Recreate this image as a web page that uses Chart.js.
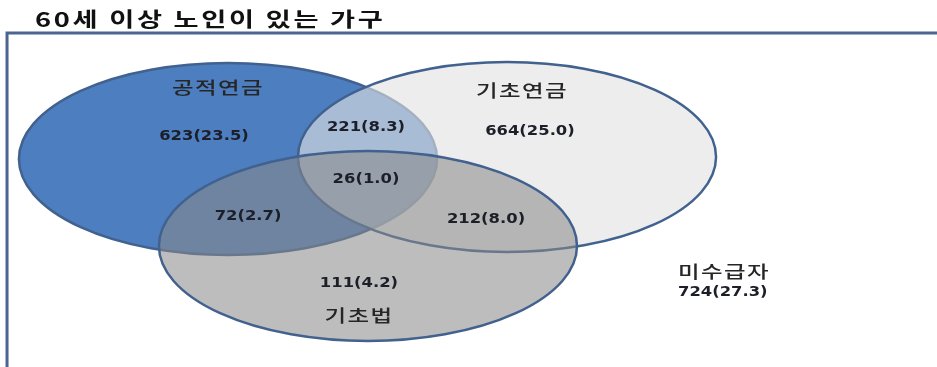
<!DOCTYPE html>
<html>
<head>
<meta charset="utf-8">
<script src="https://cdn.jsdelivr.net/npm/chart.js@4/dist/chart.umd.min.js"></script>
<style>
  html, body { margin: 0; padding: 0; background: #ffffff; }
  #wrap { width: 937px; height: 367px; }
</style>
</head>
<body>
<div id="wrap"><canvas id="venn" width="937" height="367"></canvas></div>
<script>
// ---- values ----
const chartTitle = '60세 이상 노인이 있는 가구';
const setNames = ['공적연금', '기초연금', '기초법'];
// regions: A only, B only, C only, A∩B, A∩C, B∩C, A∩B∩C
const regionCounts = [623, 664, 111, 221, 72, 212, 26];
const regionShares = [23.5, 25.0, 4.2, 8.3, 2.7, 8.0, 1.0];
const outsideName = '미수급자';
const outsideCount = 724;
const outsideShare = 27.3;

// ---- layout (axis units, both axes 0..100, y runs downward) ----
const setShapes = [
  { cx: 24.33, cy: 43.32, rx: 22.31, ry: 26.16, fill: '#4D7EC0' },
  { cx: 54.11, cy: 42.78, rx: 22.31, ry: 25.89, fill: 'rgba(226,226,226,0.62)' },
  { cx: 39.27, cy: 67.03, rx: 22.31, ry: 25.89, fill: 'rgba(137,137,137,0.56)' }
];
const setLabelPos = [
  { x: 23.27, y: 23.98 },
  { x: 55.71, y: 24.80 },
  { x: 38.31, y: 86.10 }
];
const regionLabelPos = [
  { x: 21.77, y: 37.06 },
  { x: 56.56, y: 35.69 },
  { x: 38.31, y: 77.11 },
  { x: 39.06, y: 34.60 },
  { x: 26.47, y: 58.86 },
  { x: 51.87, y: 59.67 },
  { x: 39.06, y: 48.77 }
];
const outsideLabelPos = [{ x: 72.36, y: 74.11 }, { x: 72.36, y: 79.56 }];
const titlePos = { x: 3.74, y: 5.18 };
const framePos = { x: 0.75, y: 8.99 };

const edgeColor = '#41618F';
const numberFont = 'bold 14px "DejaVu Sans", Verdana, sans-serif';
const nameFont = '500 17px "Noto Sans CJK KR", sans-serif';
const numberStretch = 1.17;
const nameStretch = 1.38;

function fmt(count, share) {
  return count + '(' + share.toFixed(1) + ')';
}

function drawText(ctx, text, x, y, font, color, stretch, align, spacing) {
  ctx.save();
  ctx.font = font;
  ctx.fillStyle = color;
  ctx.textBaseline = 'middle';
  ctx.textAlign = align;
  if (spacing) ctx.letterSpacing = spacing + 'px';
  ctx.translate(x, y);
  ctx.scale(stretch, 1);
  ctx.fillText(text, 0, 0);
  ctx.restore();
}

const vennPlugin = {
  id: 'vennPlugin',
  beforeDatasetsDraw(chart) {
    const ctx = chart.ctx;
    const xs = chart.scales.x, ys = chart.scales.y;
    // outer frame
    const fx = xs.getPixelForValue(framePos.x), fy = ys.getPixelForValue(framePos.y);
    ctx.save();
    ctx.strokeStyle = '#4A6590';
    ctx.lineWidth = 3;
    ctx.beginPath();
    ctx.moveTo(fx, chart.height + 5);
    ctx.lineTo(fx, fy);
    ctx.lineTo(chart.width + 5, fy);
    ctx.stroke();
    ctx.restore();
    // set ellipses, centred on each set's data point
    setShapes.forEach((s, i) => {
      const pt = chart.getDatasetMeta(i).data[0];
      const rx = Math.abs(xs.getPixelForValue(s.cx + s.rx) - xs.getPixelForValue(s.cx));
      const ry = Math.abs(ys.getPixelForValue(s.cy + s.ry) - ys.getPixelForValue(s.cy));
      ctx.save();
      ctx.beginPath();
      ctx.ellipse(pt.x, pt.y, rx, ry, 0, 0, Math.PI * 2);
      ctx.fillStyle = s.fill;
      ctx.fill();
      ctx.lineWidth = 2.5;
      ctx.strokeStyle = edgeColor;
      ctx.stroke();
      ctx.restore();
    });
  },
  afterDatasetsDraw(chart) {
    const ctx = chart.ctx;
    // set names
    chart.getDatasetMeta(3).data.forEach((pt, i) => {
      drawText(ctx, setNames[i], pt.x, pt.y, nameFont, '#262626', nameStretch, 'center', 1);
    });
    // region counts
    chart.getDatasetMeta(4).data.forEach((pt, i) => {
      drawText(ctx, fmt(regionCounts[i], regionShares[i]), pt.x, pt.y, numberFont, '#1C1E28', numberStretch, 'center');
    });
    // households receiving none of the three
    const om = chart.getDatasetMeta(5).data;
    drawText(ctx, outsideName, om[0].x, om[0].y, nameFont, '#262626', nameStretch, 'left', 1);
    drawText(ctx, fmt(outsideCount, outsideShare), om[1].x, om[1].y, numberFont, '#1C1E28', numberStretch, 'left');
  },
  afterDraw(chart) {
    const xs = chart.scales.x, ys = chart.scales.y;
    drawText(chart.ctx, chartTitle, xs.getPixelForValue(titlePos.x), ys.getPixelForValue(titlePos.y),
      'bold 20px "Noto Sans CJK KR", sans-serif', '#111111', 1.36, 'left', 2);
  }
};

const datasets = setShapes.map((s, i) => ({
  label: setNames[i],
  data: [{ x: s.cx, y: s.cy }],
  pointRadius: 0
}));
datasets.push({ label: 'set names', data: setLabelPos, pointRadius: 0 });
datasets.push({ label: 'regions', data: regionLabelPos, pointRadius: 0 });
datasets.push({ label: outsideName, data: outsideLabelPos, pointRadius: 0 });

new Chart(document.getElementById('venn'), {
  type: 'scatter',
  data: { datasets },
  options: {
    responsive: false,
    animation: false,
    layout: { padding: 0 },
    scales: {
      x: { type: 'linear', min: 0, max: 100, display: false },
      y: { type: 'linear', min: 0, max: 100, reverse: true, display: false }
    },
    plugins: { legend: { display: false }, tooltip: { enabled: false }, title: { display: false } }
  },
  plugins: [vennPlugin]
});
</script>
</body>
</html>
